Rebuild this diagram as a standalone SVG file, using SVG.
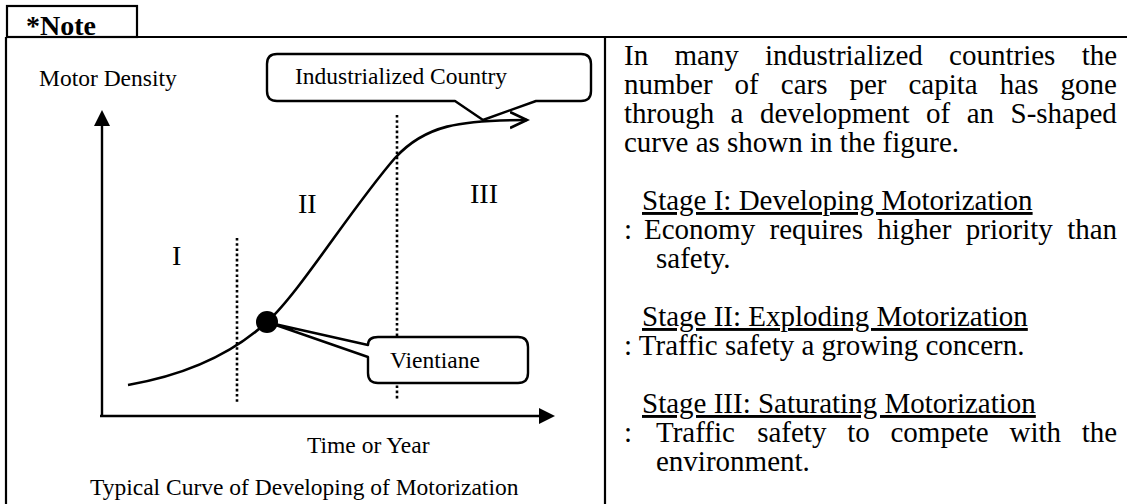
<svg xmlns="http://www.w3.org/2000/svg" width="1127" height="504" viewBox="0 0 1127 504">
  <style>
    .frame { fill: none; stroke: #000; stroke-width: 2.2; }
    .axis { fill: none; stroke: #000; stroke-width: 2.4; }
    .curve { fill: none; stroke: #000; stroke-width: 2.6; }
    .dots { fill: none; stroke: #000; stroke-width: 2.6; stroke-dasharray: 2.6 2.6; }
    .bubble { fill: #fff; stroke: #000; stroke-width: 2.4; stroke-linejoin: round; }
    text { font-family: "Liberation Serif", "Times New Roman", serif; fill: #000; }
    .lbl { font-size: 23.5px; }
    .num { font-size: 28px; }
    .body { font-size: 29px; }
    .head { font-size: 29px; text-decoration: underline; }
  </style>
  <defs>
    <marker id="solidHead" viewBox="0 0 16 16" refX="2" refY="8" markerWidth="16" markerHeight="16" markerUnits="userSpaceOnUse" orient="auto">
      <path d="M0,0 L16,8 L0,16 Z" fill="#000"/>
    </marker>
    <marker id="openHead" viewBox="0 0 20 20" refX="17" refY="10" markerWidth="20" markerHeight="20" markerUnits="userSpaceOnUse" orient="auto">
      <path d="M0,2 L17,10 L0,18" fill="none" stroke="#000" stroke-width="2.6"/>
    </marker>
  </defs>

  <!-- note tab and frame -->
  <g id="frame">
    <rect class="frame" x="7" y="6" width="130" height="31"/>
    <text x="26" y="35" font-size="28" font-weight="bold">*Note</text>
    <path class="frame" d="M6,37 L1127,37 M6,37 L6,504 M605,37 L605,504"/>
  </g>

  <!-- chart: axes, stage separators, S-curve -->
  <g id="connectors">
    <path class="axis" d="M102,416 L102,124" marker-end="url(#solidHead)"/>
    <path class="axis" d="M100,416 L541,416" marker-end="url(#solidHead)"/>
    <path class="dots" d="M237,238 L237,404"/>
    <path class="dots" d="M397,115 L397,400"/>
    <path class="curve" d="M128,385 C180,376 230,356 267,322 C300,292 350,210 395,158 C425,125 460,120 527,120" marker-end="url(#openHead)"/>
  </g>

  <g id="axis-labels">
    <text class="lbl" x="39" y="86">Motor Density</text>
    <text class="lbl" x="307" y="453">Time or Year</text>
    <text class="lbl" x="90" y="495" font-size="24">Typical Curve of Developing of Motorization</text>
  </g>

  <g id="stage-labels">
    <text class="num" x="172" y="265">I</text>
    <text class="num" x="298" y="213">II</text>
    <text class="num" x="470" y="203">III</text>
  </g>

  <!-- callouts -->
  <g id="industrialized-country">
    <path class="bubble" d="M277,54 L581,54 Q591,54 591,64 L591,91 Q591,101 581,101 L536,101 L483,120 L455,101 L277,101 Q267,101 267,91 L267,64 Q267,54 277,54 Z"/>
    <text class="lbl" x="295" y="84">Industrialized Country</text>
  </g>

  <g id="vientiane">
    <path class="bubble" d="M378,337 L518,337 Q528,337 528,347 L528,373 Q528,383 518,383 L378,383 Q368,383 368,373 L368,357 L270,323 L368,345 Q368,337 378,337 Z"/>
    <circle cx="267" cy="322" r="11" fill="#000"/>
    <text class="lbl" x="390" y="368">Vientiane</text>
  </g>

  <!-- explanatory text -->
  <g id="description">
    <text class="body" y="65"><tspan x="624">In</tspan><tspan x="674.4">many</tspan><tspan x="765">industrialized</tspan><tspan x="949.1">countries</tspan><tspan x="1081.7">the</tspan></text>
    <text class="body" y="94"><tspan x="624">number</tspan><tspan x="734.6">of</tspan><tspan x="780.8">cars</tspan><tspan x="849.5">per</tspan><tspan x="908.5">capita</tspan><tspan x="999.8">has</tspan><tspan x="1060.5">gone</tspan></text>
    <text class="body" y="123"><tspan x="624">through</tspan><tspan x="730.6">a</tspan><tspan x="759.9">development</tspan><tspan x="926.1">of</tspan><tspan x="966.7">an</tspan><tspan x="1010.5">S-shaped</tspan></text>
    <text class="body" x="624" y="152">curve as shown in the figure.</text>

    <text class="head" x="642" y="210">Stage I: Developing Motorization</text>
    <text class="body" y="239"><tspan x="624">:</tspan><tspan x="644">Economy</tspan><tspan x="769.6">requires</tspan><tspan x="877.3">higher</tspan><tspan x="965.8">priority</tspan><tspan x="1067.2">than</tspan></text>
    <text class="body" x="656" y="268">safety.</text>

    <text class="head" x="642" y="326">Stage II: Exploding Motorization</text>
    <text class="body" x="624" y="355">: Traffic safety a growing concern.</text>

    <text class="head" x="642" y="413">Stage III: Saturating Motorization</text>
    <text class="body" y="442"><tspan x="624">:</tspan><tspan x="656">Traffic</tspan><tspan x="757.2">safety</tspan><tspan x="847.2">to</tspan><tspan x="890.5">compete</tspan><tspan x="1009.5">with</tspan><tspan x="1081.8">the</tspan></text>
    <text class="body" x="656" y="471">environment.</text>
  </g>
</svg>
